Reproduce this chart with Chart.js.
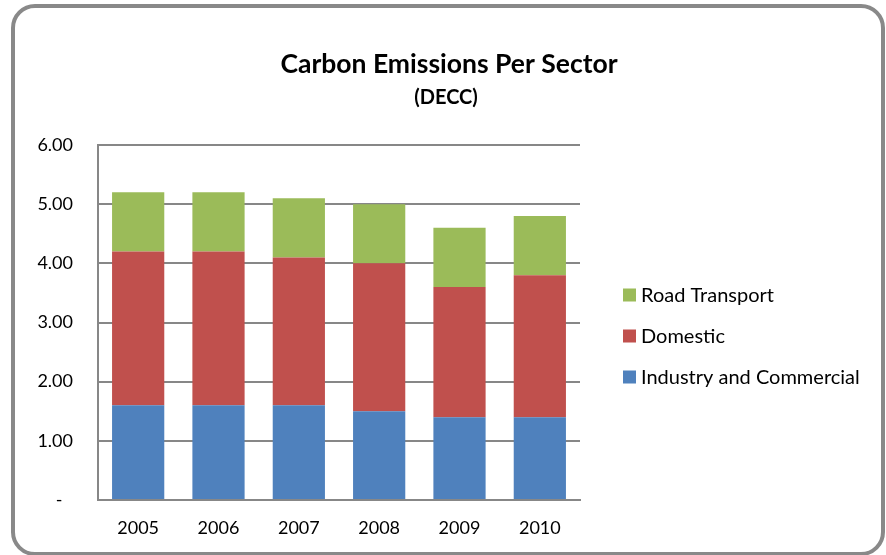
<!DOCTYPE html>
<html>
<head>
<meta charset="utf-8">
<script src="https://cdn.jsdelivr.net/npm/chart.js@4.4.1/dist/chart.umd.min.js"></script>
<style>
html,body{margin:0;padding:0;background:#fff;}
#wrap{position:relative;width:886px;height:555px;}
</style>
</head>
<body>
<div id="wrap"><canvas id="c" width="886" height="555"></canvas></div>
<script>
const titleText = "Carbon Emissions Per Sector";
const subtitleText = "(DECC)";
const years = ["2005", "2006", "2007", "2008", "2009", "2010"];
const industryCommercial = [1.6, 1.6, 1.6, 1.5, 1.4, 1.4];
const domestic = [2.6, 2.6, 2.5, 2.5, 2.2, 2.4];
const roadTransport = [1.0, 1.0, 1.0, 1.0, 1.0, 1.0];
const seriesNames = ["Industry and Commercial", "Domestic", "Road Transport"];
const seriesColors = ["#4F81BD", "#C0504D", "#9BBB59"];

const FONT = "Lato, 'Open Sans', sans-serif";
const GRID = "#878787";

const decor = {
  id: 'decor',
  beforeDraw(chart) {
    const ctx = chart.ctx;
    ctx.save();
    ctx.fillStyle = '#fff';
    ctx.fillRect(0, 0, chart.width, chart.height);
    const x = 13, y = 6, w = 870, h = 548, r = 22;
    ctx.beginPath();
    ctx.moveTo(x + r, y);
    ctx.lineTo(x + w - r, y);
    ctx.arcTo(x + w, y, x + w, y + r, r);
    ctx.lineTo(x + w, y + h - r);
    ctx.arcTo(x + w, y + h, x + w - r, y + h, r);
    ctx.lineTo(x + r, y + h);
    ctx.arcTo(x, y + h, x, y + h - r, r);
    ctx.lineTo(x, y + r);
    ctx.arcTo(x, y, x + r, y, r);
    ctx.closePath();
    ctx.lineWidth = 4;
    ctx.strokeStyle = '#898989';
    ctx.stroke();
    ctx.restore();
  },
  afterDraw(chart) {
    const ctx = chart.ctx;
    ctx.save();
    ctx.fillStyle = '#000';
    ctx.textAlign = 'center';
    ctx.textBaseline = 'alphabetic';
    ctx.font = "bold 26.5px " + FONT;
    ctx.fillText(titleText, 449, 73);
    ctx.font = "bold 20px " + FONT;
    ctx.fillText(subtitleText, 446, 104);
    const ys = [295, 336, 377];
    const ds = chart.data.datasets;
    ctx.textAlign = 'left';
    ctx.textBaseline = 'middle';
    ctx.font = "20px " + FONT;
    for (let i = 0; i < ds.length; i++) {
      const d = ds[ds.length - 1 - i];
      const cy = ys[i];
      ctx.fillStyle = d.backgroundColor;
      ctx.fillRect(623, cy - 6.5, 13, 13);
      ctx.fillStyle = '#000';
      ctx.fillText(d.label, 641, cy + 1);
    }
    ctx.restore();
  }
};

new Chart(document.getElementById('c'), {
  type: 'bar',
  data: {
    labels: years,
    datasets: [
      { label: seriesNames[0], data: industryCommercial, backgroundColor: seriesColors[0] },
      { label: seriesNames[1], data: domestic, backgroundColor: seriesColors[1] },
      { label: seriesNames[2], data: roadTransport, backgroundColor: seriesColors[2] }
    ]
  },
  options: {
    responsive: false,
    animation: false,
    devicePixelRatio: 1,
    layout: { padding: { top: 145, left: 0, right: 306, bottom: 0 } },
    plugins: { legend: { display: false }, title: { display: false }, tooltip: { enabled: false } },
    datasets: { bar: { categoryPercentage: 1, barPercentage: 0.65, borderWidth: 0 } },
    scales: {
      x: {
        stacked: true,
        grid: { display: false, drawTicks: false },
        border: { display: true, color: GRID, width: 2 },
        ticks: { color: '#000', font: { family: FONT, size: 18 }, padding: 17 },
        afterFit(s) { s.height = 55; }
      },
      y: {
        stacked: true,
        min: 0, max: 6,
        ticks: {
          stepSize: 1,
          color: '#000',
          font: { family: FONT, size: 18 },
          padding: 25,
          callback: v => v === 0 ? '-\u2007' : v.toFixed(2)
        },
        grid: { color: GRID, lineWidth: 2, drawTicks: false },
        border: { display: true, color: GRID, width: 2 },
        afterFit(s) { s.width = 98; }
      }
    }
  },
  plugins: [decor]
});
</script>
</body>
</html>
